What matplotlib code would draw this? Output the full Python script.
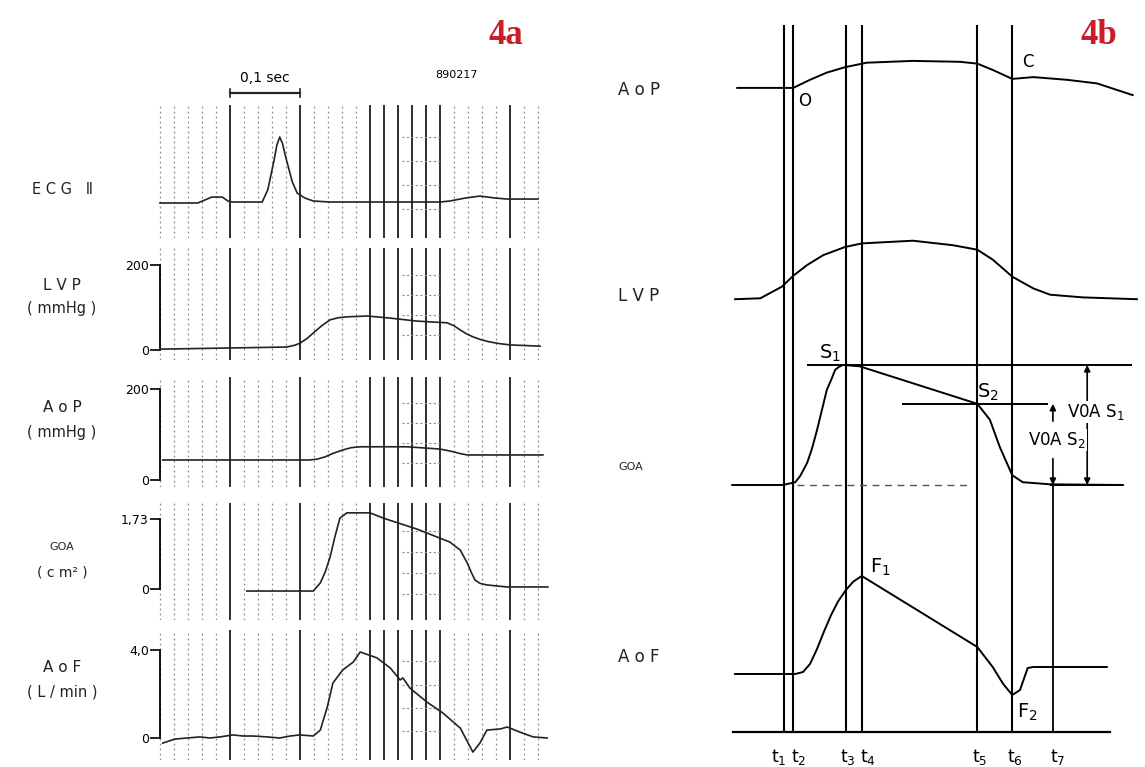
import matplotlib.pyplot as plt
import numpy as np

# ---------- panel 4a : recorded traces, time in ms ----------
ecg_t = [0, 54, 64, 74, 89, 97, 103, 146, 154, 158, 163, 167, 171, 175, 180, 185, 189, 196, 207, 219, 243,
         400, 414, 436, 457, 479, 496, 540]
ecg_mv = [0, 0, .045, .09, .09, .03, .015, .015, .2, .4, .65, .88, 1.0, .9, .68, .48, .32, .15, .075, .03, .015,
          .015, .03, .075, .105, .075, .06, .06]

lvp_t = [0, 181, 192, 200, 210, 219, 231, 243, 255, 267, 296, 329, 367, 410, 420, 429, 438, 447, 459, 471, 485, 500, 543]
lvp_mmhg = [2, 7, 11, 16, 27, 40, 57, 71, 76, 78, 80, 75, 68, 64, 57, 47, 38, 31, 24, 19, 15, 12, 9]

aop_t = [4, 214, 225, 236, 248, 261, 273, 286, 353, 400, 410, 419, 429, 439, 547]
aop_mmhg = [44, 44, 46, 51, 59, 66, 71, 73, 73, 68, 65, 62, 58, 55, 55]

goa_t = [124, 219, 229, 236, 243, 250, 257, 267, 300, 319, 367, 414, 429, 439, 445, 450, 457, 467, 496, 554]
goa_cm2 = [-0.05, -0.05, 0.15, 0.42, 0.79, 1.3, 1.75, 1.88, 1.88, 1.75, 1.48, 1.16, 0.96, 0.64, 0.4, 0.22, 0.14,
           0.10, 0.05, 0.05]

aof_t = [4, 21, 39, 57, 71, 86, 104, 119, 133, 153, 171, 186, 200, 219, 229, 239, 247, 261, 276, 286,
         310, 329, 343, 347, 357, 381, 404, 429, 447, 457, 467, 486, 496, 514, 533, 553]
aof_lmin = [-0.23, -0.05, 0, 0.05, 0, 0.05, 0.14, 0.09, 0.09, 0.05, 0, 0.09, 0.14, 0.09, 0.36, 1.41, 2.5, 3.09, 3.45, 3.91,
            3.64, 3.18, 2.64, 2.73, 2.27, 1.64, 1.14, 0.45, -0.64, -0.23, 0.36, 0.41, 0.5, 0.27, 0.05, 0]

# recording paper: heavy and light time lines (ms)
grid_major = [100, 200, 300, 320, 340, 360, 380, 400, 500]
grid_minor = list(range(0, 541, 20))

# ---------- panel 4b : schematic, time in ms ----------
t_marks = [73, 86, 161, 184, 349, 399, 457]
t_names = ['1', '2', '3', '4', '5', '6', '7']

r_aop_t = [6, 86, 110, 134, 160, 191, 257, 324, 349, 371, 399, 429, 477, 520, 571]
r_aop = [69, 69, 78, 86, 92, 97, 99, 98, 96, 89, 79, 81, 78, 74, 61]

r_lvp_t = [3, 39, 70, 86, 106, 129, 160, 184, 257, 314, 349, 371, 399, 429, 453, 500, 577]
r_lvp = [12, 13, 26, 38, 50, 61, 70, 74, 77, 72, 67, 56, 37, 24, 17, 14, 12]

r_goa_t = [-1, 71, 89, 96, 106, 113, 120, 127, 134, 140, 146, 151, 157, 181, 349, 367, 381, 399, 414, 453, 557]
r_goa = [0, 0, .04, .13, .32, .53, .79, 1.08, 1.37, 1.51, 1.66, 1.70, 1.73, 1.71, 1.17, .94, .55, .14, .04, .01, 0]

r_aof_t = [3, 89, 100, 110, 120, 130, 140, 150, 161, 172, 184, 349, 371, 386, 399, 410, 421, 429, 534]
r_aof = [0, 0, .08, .4, 1.0, 1.7, 2.35, 2.9, 3.35, 3.7, 3.92, 1.08, .28, -.4, -.84, -.64, .24, .28, .28]

W, H = 1145, 767
fig = plt.figure(figsize=(W / 100, H / 100), dpi=100)
fig.patch.set_facecolor('white')


def px_axes(left, top, right, bottom):
    ax = fig.add_axes([left / W, 1 - bottom / H, (right - left) / W, (bottom - top) / H])
    ax.patch.set_visible(False)
    return ax


def strip(box, x0, zero_px, scale, xs=0.7):
    left, top, right, bottom = box
    ax = px_axes(*box)
    ax.set_xlim((left - x0) / xs, (right - x0) / xs)
    ax.set_ylim((zero_px - bottom) / scale, (zero_px - top) / scale)
    for s in ax.spines.values():
        s.set_visible(False)
    ax.set_xticks([])
    ax.set_yticks([])
    return ax


# ----- left panel -----
left_strips = [
    ((150, 105, 552, 238), 203, 66, ecg_t, ecg_mv, None, None),
    ((150, 248, 552, 360), 350, 0.425, lvp_t, lvp_mmhg, [0, 200], ['0', '200']),
    ((150, 377, 552, 487), 480, 0.455, aop_t, aop_mmhg, [0, 200], ['0', '200']),
    ((150, 503, 552, 620), 589, 40.5, goa_t, goa_cm2, [0, 1.73], ['0', '1,73']),
    ((150, 630, 552, 760), 738, 22, aof_t, aof_lmin, [0, 4.0], ['0', '4,0']),
]

axes_left = []
for box, zero_px, scale, tt, vv, ticks, labels in left_strips:
    ax = strip(box, 160, zero_px, scale)
    for t in grid_minor:
        if t not in grid_major:
            ax.axvline(t, color='#8c8c8c', lw=0.9, ls=(0, (1.5, 2.5)), zorder=1)
    for t in grid_major:
        ax.axvline(t, color='#1e1e1e', lw=1.3, zorder=1)
    ax.hlines([0.22, 0.4, 0.58, 0.76], 345, 400, transform=ax.get_xaxis_transform(),
              color='#8c8c8c', lw=0.8, ls=(0, (2, 2)), zorder=1)
    ax.plot(tt, vv, color='#222222', lw=1.2, zorder=3)
    if ticks is not None:
        sp = ax.spines['left']
        sp.set_visible(True)
        sp.set_position(('data', 0))
        sp.set_bounds(ticks[0], ticks[1])
        sp.set_linewidth(1.3)
        ax.set_yticks(ticks, labels)
        ax.tick_params(axis='y', direction='out', length=7, width=1.2, labelsize=9, pad=1)
    axes_left.append(ax)

ecg_ax = axes_left[0]
# 0,1 sec scale bar
ecg_ax.plot([100, 200], [1.667, 1.667], color='#222222', lw=1.6, clip_on=False)
ecg_ax.plot([100, 100], [1.61, 1.72], color='#222222', lw=1.2, clip_on=False)
ecg_ax.plot([200, 200], [1.61, 1.72], color='#222222', lw=1.2, clip_on=False)
ecg_ax.text(150, 1.89, '0,1 sec', ha='center', va='center', fontsize=10, clip_on=False)
ecg_ax.text(423, 1.94, '890217', ha='center', va='center', fontsize=8, clip_on=False)

left_labels = [('E C G   Ⅱ', 190, 10.5), ('L V P', 286, 11), ('( mmHg )', 309, 10.5),
               ('A o P', 408, 11), ('( mmHg )', 433, 10.5), ('GOA', 547, 8),
               ('( c m² )', 572, 10), ('A o F', 667, 11), ('( L / min )', 692, 10.5)]
for txt, y, fs in left_labels:
    fig.text(62 / W, 1 - y / H, txt, ha='center', va='center', fontsize=fs, color='#222222')

fig.text(506 / W, 1 - 36 / H, '4a', ha='center', va='center', fontsize=25,
         fontweight='bold', family='Liberation Serif', color='#c81e28')
fig.text(1099 / W, 1 - 36 / H, '4b', ha='center', va='center', fontsize=25,
         fontweight='bold', family='Liberation Serif', color='#c81e28')

# ----- right panel -----
ov = px_axes(728, 25, 1145, 732)
ov.set_xlim((728 - 733) / 0.7, (1145 - 733) / 0.7)
ov.set_ylim(0, 1)
for s in ov.spines.values():
    s.set_visible(False)
ov.spines['bottom'].set_visible(True)
ov.spines['bottom'].set_linewidth(1.6)
ov.spines['bottom'].set_bounds(0, 539)
ov.set_xticks([])
ov.set_yticks([])
for t in t_marks[:-1]:
    ov.axvline(t, color='black', lw=1.5)
ov.axvline(t_marks[-1], ymax=(732 - 485) / (732 - 25), color='black', lw=1.3)
# time labels, nudged apart where two marks are close
label_ha = ['right', 'left', 'center', 'left', 'center', 'center', 'center']
label_dx = [3, -3, 3, -2, 4, 4, 7]
for t, n, ha, dx in zip(t_marks, t_names, label_ha, label_dx):
    ov.text(t + dx, -0.035, r'$\mathregular{t_%s}$' % n, ha=ha, va='center', fontsize=12.5,
            transform=ov.get_xaxis_transform(), clip_on=False)

r_aop_ax = strip((728, 20, 1145, 170), 733, 150, 0.9)
r_aop_ax.plot(r_aop_t, r_aop, color='black', lw=1.4)
r_aop_ax.text(103, 55, 'O', ha='center', va='center', fontsize=12)
r_aop_ax.text(421, 98, 'C', ha='center', va='center', fontsize=12)

r_lvp_ax = strip((728, 220, 1145, 320), 733, 310, 0.9)
r_lvp_ax.plot(r_lvp_t, r_lvp, color='black', lw=1.4)

r_goa_ax = strip((728, 340, 1145, 500), 733, 485, 69.4)
r_goa_ax.plot(r_goa_t, r_goa, color='black', lw=1.4, zorder=3)
s1 = max(r_goa)
s2 = r_goa[r_goa_t.index(t_marks[4])]
r_goa_ax.hlines(s1, 106, 570, color='black', lw=1.4)
r_goa_ax.hlines(s2, 241, 450, color='black', lw=1.4)
r_goa_ax.hlines(0, 91, 339, color='#555555', lw=1.0, ls=(0, (5, 4)))
r_goa_ax.hlines(0, 453, 557, color='black', lw=1.4)
r_goa_ax.annotate('', xy=(506, s1), xytext=(506, 0),
                  arrowprops=dict(arrowstyle='<|-|>', color='black', lw=1.2, mutation_scale=9, shrinkA=0, shrinkB=0))
r_goa_ax.annotate('', xy=(t_marks[6], s2), xytext=(t_marks[6], 0.92),
                  arrowprops=dict(arrowstyle='-|>', color='black', lw=1.2, mutation_scale=9, shrinkA=0, shrinkB=0))
r_goa_ax.annotate('', xy=(t_marks[6], 0), xytext=(t_marks[6], 0.38),
                  arrowprops=dict(arrowstyle='-|>', color='black', lw=1.2, mutation_scale=9, shrinkA=0, shrinkB=0))
r_goa_ax.text(519, 1.05, r'V0A $\mathregular{S_1}$', ha='center', va='center', fontsize=12,
              bbox=dict(facecolor='white', edgecolor='none', pad=0.5), zorder=5)
r_goa_ax.text(463, 0.65, r'V0A $\mathregular{S_2}$', ha='center', va='center', fontsize=12,
              bbox=dict(facecolor='white', edgecolor='none', pad=0.5), zorder=5)
r_goa_ax.text(139, 1.90, r'$\mathregular{S_1}$', ha='center', va='center', fontsize=14)
r_goa_ax.text(364, 1.33, r'$\mathregular{S_2}$', ha='center', va='center', fontsize=14)

r_aof_ax = strip((728, 560, 1145, 725), 733, 674, 25)
r_aof_ax.plot(r_aof_t, r_aof, color='black', lw=1.4)
r_aof_ax.text(210, 4.28, r'$\mathregular{F_1}$', ha='center', va='center', fontsize=14)
r_aof_ax.text(420, -1.52, r'$\mathregular{F_2}$', ha='center', va='center', fontsize=14)

right_labels = [('A o P', 90, 12), ('L V P', 296, 12), ('GOA', 467, 8), ('A o F', 657, 12)]
for txt, y, fs in right_labels:
    fig.text(618 / W, 1 - y / H, txt, ha='left', va='center', fontsize=fs, color='#222222')

fig.savefig('out.png', dpi=100, facecolor='white')
